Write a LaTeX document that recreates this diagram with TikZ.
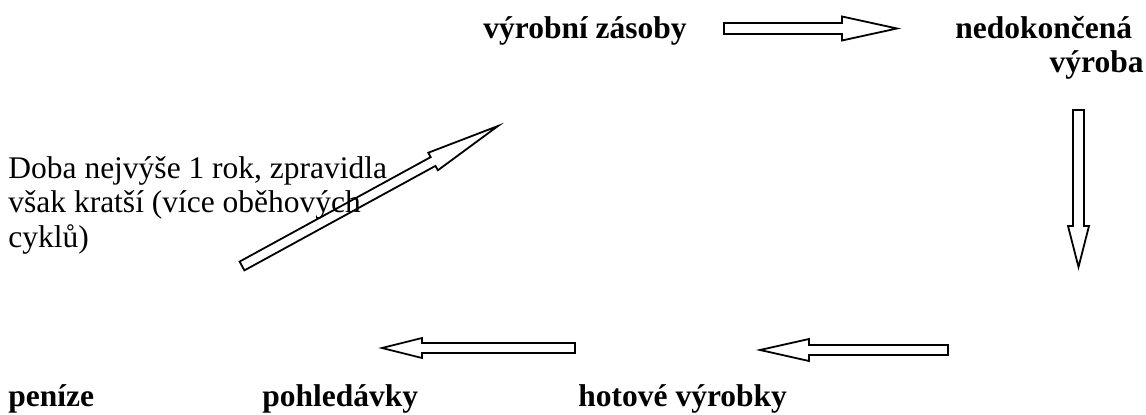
\documentclass[tikz,border=0pt]{standalone}
\usepackage{fontspec}
\setmainfont{Liberation Serif}
\usetikzlibrary{calc}
\newcommand\blockarr[5]{%
  \coordinate (hb) at ($(#2)!#5!(#1)$);
  \draw[barrow] ($(#1)!#3!90:(#2)$) -- ($(hb)!#3!90:(#2)$) -- ($(hb)!#4!90:(#2)$) -- (#2)
    -- ($(hb)!#4!-90:(#2)$) -- ($(hb)!#3!-90:(#2)$) -- ($(#1)!#3!-90:(#2)$) -- cycle;}
\begin{document}
\begin{tikzpicture}[x=0.5pt,y=-0.5pt,
  lbl/.style={font=\fontsize{15.75}{17}\selectfont\bfseries, inner sep=0pt, anchor=base west},
  note/.style={font=\fontsize{15.75}{17.2}\selectfont, inner sep=0pt, anchor=north west, align=left},
  barrow/.style={draw=black, line width=0.9pt, fill=white, line join=miter}]
\useasboundingbox[fill=white] (0,0) rectangle (1146,415);

\coordinate (a1s) at (724,28.5);
\coordinate (a1e) at (897,28.5);
\coordinate (a2s) at (1078.5,110);
\coordinate (a2e) at (1078.5,267);
\coordinate (a3s) at (948,350);
\coordinate (a3e) at (760,350);
\coordinate (a4s) at (575,348);
\coordinate (a4e) at (382,348);
\coordinate (a5s) at (242,266);
\coordinate (a5e) at (498,126);

\blockarr{a1s}{a1e}{2.75pt}{6pt}{27.5pt}
\blockarr{a2s}{a2e}{2.75pt}{5.25pt}{20.5pt}
\blockarr{a3s}{a3e}{2.5pt}{5.5pt}{24.5pt}
\blockarr{a4s}{a4e}{2.5pt}{5pt}{20pt}
\blockarr{a5s}{a5e}{2.5pt}{5pt}{37pt}

\node[lbl] (zasoby) at (483,39) {výrobní zásoby};
\node[lbl] (nedok) at (955,39) {nedokončená};
\node[lbl, anchor=base east] (vyroba) at (1144,73) {výroba};
\node[note] (doba) at (8,156) {Doba nejvýše 1 rok, zpravidla\\ však kratší (více oběhových\\ cyklů)};
\node[lbl] (penize) at (8,407) {peníze};
\node[lbl] (pohl) at (262,407) {pohledávky};
\node[lbl] (hotove) at (578,407) {hotové výrobky};
\end{tikzpicture}
\end{document}
